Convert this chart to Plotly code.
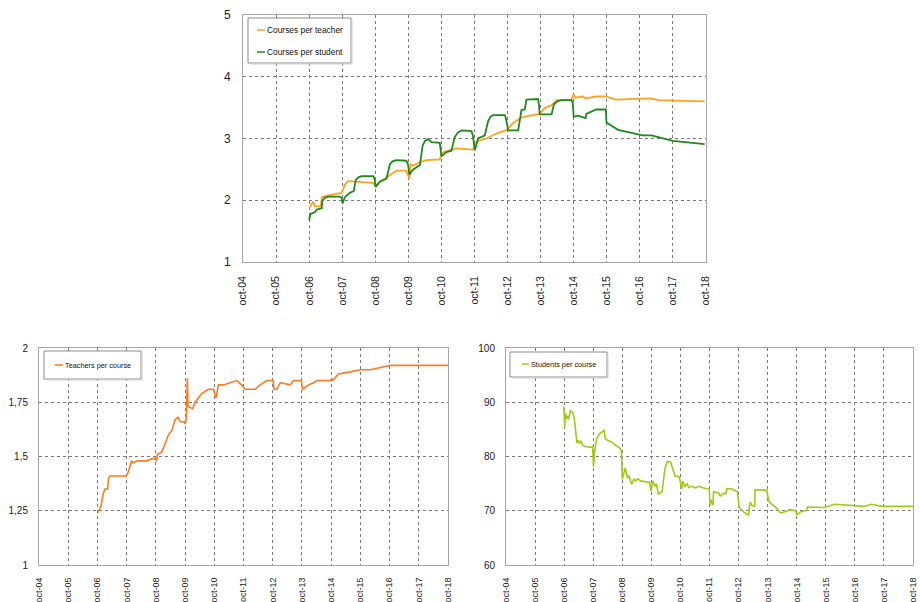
import plotly.graph_objects as go

# Time axis in decimal years; each October is a tick ("oct-04" ... "oct-18").
tick_years = [2004.75 + i for i in range(15)]
tick_labels = ["oct-%02d" % (4 + i) for i in range(15)]

# Courses per teacher
cpt_year = [2006.75, 2006.87, 2006.93, 2007.10, 2007.13, 2007.33, 2007.73, 2007.83, 2007.93,
            2008.30, 2008.69, 2008.76, 2008.89, 2009.04, 2009.39, 2009.69, 2009.78, 2009.82,
            2009.90, 2010.10, 2010.30, 2010.70, 2010.75, 2010.85, 2011.10, 2011.20, 2011.71,
            2011.76, 2011.86, 2012.11, 2012.41, 2012.72, 2012.92, 2013.17, 2013.42, 2013.72,
            2013.87, 2014.08, 2014.23, 2014.63, 2014.68, 2014.75, 2014.80, 2014.88, 2015.03,
            2015.11, 2015.43, 2015.72, 2016.04, 2017.05, 2017.35, 2018.05, 2018.71]
cpt_value = [1.87, 1.98, 1.90, 1.90, 2.05, 2.08, 2.12, 2.25, 2.31,
             2.30, 2.28, 2.22, 2.30, 2.35, 2.48, 2.48, 2.35, 2.58,
             2.56, 2.62, 2.65, 2.66, 2.75, 2.79, 2.82, 2.84, 2.82,
             2.93, 2.96, 3.00, 3.08, 3.14, 3.25, 3.34, 3.37, 3.40,
             3.49, 3.54, 3.62, 3.62, 3.63, 3.72, 3.66, 3.67, 3.68,
             3.65, 3.68, 3.68, 3.63, 3.65, 3.62, 3.61, 3.60]

# Courses per student
cps_year = [2006.75, 2006.79, 2006.93, 2006.98, 2007.13, 2007.15, 2007.22, 2007.33, 2007.68,
            2007.73, 2007.76, 2007.83, 2007.98, 2008.10, 2008.16, 2008.24, 2008.34, 2008.69,
            2008.73, 2008.76, 2008.89, 2009.09, 2009.19, 2009.27, 2009.39, 2009.69, 2009.74,
            2009.78, 2009.90, 2010.10, 2010.18, 2010.25, 2010.35, 2010.45, 2010.70, 2010.72,
            2010.75, 2010.90, 2011.05, 2011.15, 2011.25, 2011.36, 2011.66, 2011.70, 2011.76,
            2011.86, 2012.06, 2012.16, 2012.23, 2012.31, 2012.67, 2012.71, 2012.77, 2013.07,
            2013.14, 2013.17, 2013.27, 2013.32, 2013.67, 2013.70, 2013.72, 2014.08, 2014.15,
            2014.25, 2014.38, 2014.68, 2014.72, 2014.75, 2014.88, 2015.03, 2015.11, 2015.13,
            2015.43, 2015.72, 2015.74, 2016.09, 2016.84, 2017.10, 2017.75, 2018.71]
cps_value = [1.68, 1.78, 1.81, 1.85, 1.87, 1.99, 2.04, 2.06, 2.06,
             2.04, 1.95, 2.05, 2.12, 2.15, 2.33, 2.37, 2.39, 2.39,
             2.34, 2.22, 2.30, 2.35, 2.58, 2.63, 2.65, 2.64, 2.58,
             2.42, 2.50, 2.57, 2.88, 2.96, 2.99, 2.94, 2.93, 2.85,
             2.71, 2.78, 2.80, 3.02, 3.10, 3.13, 3.12, 3.05, 2.81,
             3.00, 3.05, 3.28, 3.35, 3.38, 3.38, 3.30, 3.13, 3.13,
             3.40, 3.46, 3.47, 3.63, 3.64, 3.55, 3.39, 3.39, 3.55,
             3.60, 3.62, 3.62, 3.58, 3.35, 3.37, 3.35, 3.33, 3.40,
             3.47, 3.47, 3.26, 3.14, 3.05, 3.05, 2.96, 2.91]

# Teachers per course
tpc_year = [2006.76, 2006.84, 2006.87, 2006.95, 2007.01, 2007.10, 2007.13, 2007.18, 2007.73,
            2007.81, 2007.92, 2007.98, 2008.10, 2008.44, 2008.61, 2008.72, 2008.78, 2008.80,
            2008.95, 2009.07, 2009.18, 2009.30, 2009.41, 2009.52, 2009.58, 2009.72, 2009.75,
            2009.79, 2009.83, 2009.85, 2010.01, 2010.09, 2010.24, 2010.32, 2010.55, 2010.72,
            2010.81, 2010.89, 2011.06, 2011.29, 2011.52, 2011.69, 2011.81, 2012.15, 2012.32,
            2012.55, 2012.76, 2012.80, 2012.89, 2013.01, 2013.35, 2013.46, 2013.73, 2013.77,
            2013.98, 2014.15, 2014.26, 2014.72, 2014.78, 2014.80, 2015.00, 2015.40, 2015.75,
            2016.09, 2016.77, 2018.75]
tpc_value = [1.24, 1.26, 1.27, 1.33, 1.35, 1.35, 1.40, 1.41, 1.41,
             1.43, 1.48, 1.47, 1.48, 1.48, 1.49, 1.49, 1.48, 1.51,
             1.52, 1.56, 1.60, 1.62, 1.67, 1.68, 1.66, 1.66, 1.65,
             1.67, 1.86, 1.73, 1.72, 1.75, 1.78, 1.79, 1.81, 1.81,
             1.77, 1.83, 1.83, 1.84, 1.85, 1.83, 1.81, 1.81, 1.83,
             1.85, 1.85, 1.81, 1.81, 1.84, 1.83, 1.85, 1.85, 1.81,
             1.83, 1.84, 1.85, 1.85, 1.86, 1.85, 1.88, 1.89, 1.90,
             1.90, 1.92, 1.92]

# Students per course
spc_year = [2006.74, 2006.77, 2006.79, 2006.84, 2006.87, 2006.90, 2006.96, 2007.04, 2007.10,
            2007.16, 2007.19, 2007.23, 2007.27, 2007.33, 2007.39, 2007.50, 2007.71, 2007.73,
            2007.76, 2007.80, 2007.87, 2007.96, 2008.07, 2008.13, 2008.16, 2008.24, 2008.41,
            2008.53, 2008.66, 2008.72, 2008.75, 2008.85, 2008.93, 2008.98, 2009.07, 2009.15,
            2009.21, 2009.29, 2009.38, 2009.67, 2009.69, 2009.74, 2009.80, 2009.87, 2009.92,
            2009.99, 2010.09, 2010.12, 2010.16, 2010.22, 2010.30, 2010.41, 2010.47, 2010.56,
            2010.70, 2010.73, 2010.79, 2010.83, 2010.90, 2010.98, 2011.04, 2011.15, 2011.27,
            2011.38, 2011.55, 2011.72, 2011.74, 2011.77, 2011.80, 2011.87, 2011.89, 2012.06,
            2012.12, 2012.24, 2012.32, 2012.35, 2012.52, 2012.71, 2012.77, 2012.92, 2013.09,
            2013.15, 2013.21, 2013.30, 2013.32, 2013.72, 2013.78, 2013.83, 2013.95, 2014.06,
            2014.19, 2014.35, 2014.52, 2014.69, 2014.71, 2014.76, 2014.83, 2014.89, 2015.03,
            2015.09, 2015.12, 2015.66, 2015.69, 2016.06, 2016.63, 2017.08, 2017.31, 2017.71,
            2018.75]
spc_value = [89.2, 85.4, 88.0, 87.0, 87.5, 86.8, 88.4, 88.2, 87.0,
             83.0, 82.5, 83.0, 82.5, 82.8, 82.1, 81.8, 81.7, 82.0,
             78.1, 81.0, 83.3, 84.2, 84.7, 84.8, 83.3, 83.0, 82.6,
             82.0, 81.6, 81.0, 75.8, 77.9, 76.0, 76.5, 74.9, 75.8,
             75.5, 75.9, 75.5, 75.1, 75.2, 73.6, 75.5, 74.5, 75.0,
             73.1, 73.5, 73.5, 75.3, 77.8, 79.1, 79.0, 78.0, 76.4,
             76.3, 75.8, 74.0, 75.5, 74.5, 75.0, 74.3, 74.5, 74.2,
             74.5, 74.2, 74.0, 74.0, 71.0, 72.0, 71.0, 73.5, 73.3,
             72.7, 73.2, 73.2, 74.1, 74.0, 73.5, 70.6, 69.8, 69.2,
             71.6, 71.0, 70.8, 73.9, 73.8, 72.0, 71.5, 71.0, 70.5,
             69.6, 69.8, 70.2, 70.1, 70.0, 69.3, 69.5, 69.8, 70.0,
             70.1, 70.7, 70.7, 70.6, 71.2, 70.9, 70.8, 71.2, 70.8,
             70.8]

FONT = "Liberation Sans, Arial, sans-serif"
W, H = 920, 602

COL_CPT = "#FFA21F"
COL_CPS = "#1E8A1E"
COL_TPC = "#FF7A22"
COL_SPC = "#9CCC14"


def xdom(x0, x1):
    return [x0 / W, x1 / W]


def ydom(y0, y1):
    return [1 - y1 / H, 1 - y0 / H]


fig = go.Figure()

fig.add_trace(go.Scatter(x=cpt_year, y=cpt_value, mode="lines", name="Courses per teacher",
                         line=dict(color=COL_CPT, width=1.8), xaxis="x", yaxis="y"))
fig.add_trace(go.Scatter(x=cps_year, y=cps_value, mode="lines", name="Courses per student",
                         line=dict(color=COL_CPS, width=1.8), xaxis="x", yaxis="y"))
fig.add_trace(go.Scatter(x=tpc_year, y=tpc_value, mode="lines", name="Teachers per course",
                         line=dict(color=COL_TPC, width=1.6), xaxis="x2", yaxis="y2"))
fig.add_trace(go.Scatter(x=spc_year, y=spc_value, mode="lines", name="Students per course",
                         line=dict(color=COL_SPC, width=1.6), xaxis="x3", yaxis="y3"))

grid = dict(showgrid=True, gridcolor="#7a7a7a", griddash="dot", gridwidth=1,
            showline=True, linecolor="#a6a6a6", linewidth=1, mirror=True,
            zeroline=False, ticks="", automargin=False, fixedrange=True)


def xaxis(dom, anchor, size, standoff):
    return dict(domain=dom, anchor=anchor, range=[tick_years[0], tick_years[-1]],
                tickmode="array", tickvals=tick_years, ticktext=tick_labels,
                tickangle=-90, ticklabelstandoff=standoff,
                tickfont=dict(family=FONT, size=size, color="#222"), **grid)


def yaxis(dom, anchor, rng, vals, size, standoff):
    return dict(domain=dom, anchor=anchor, range=rng, tickmode="array", tickvals=vals,
                ticklabelstandoff=standoff,
                tickfont=dict(family=FONT, size=size, color="#222"), **grid)


# Boxed legends in the style of a spreadsheet chart: short line sample, then the name.
shapes = []
annotations = []


def boxed_legend(box, entries, size):
    x0, y0, x1, y1 = box
    shapes.append(dict(type="rect", xref="paper", yref="paper",
                       x0=x0 / W, x1=x1 / W, y0=1 - y1 / H, y1=1 - y0 / H,
                       line=dict(color="#8c8c8c", width=1), fillcolor="white", layer="above"))
    # soft drop shadow on the right and bottom edges
    shapes.append(dict(type="line", xref="paper", yref="paper",
                       x0=(x1 + 1) / W, x1=(x1 + 1) / W, y0=1 - (y1 + 1) / H, y1=1 - (y0 + 2) / H,
                       line=dict(color="#d0d0d0", width=1), layer="above"))
    shapes.append(dict(type="line", xref="paper", yref="paper",
                       x0=(x0 + 2) / W, x1=(x1 + 1) / W, y0=1 - (y1 + 1) / H, y1=1 - (y1 + 1) / H,
                       line=dict(color="#d0d0d0", width=1), layer="above"))
    for (lx0, lx1, ly, name, color) in entries:
        shapes.append(dict(type="line", xref="paper", yref="paper",
                           x0=lx0 / W, x1=lx1 / W, y0=1 - ly / H, y1=1 - ly / H,
                           line=dict(color=color, width=1.5), layer="above"))
        annotations.append(dict(xref="paper", yref="paper", x=lx1 / W, y=1 - ly / H,
                                xanchor="left", yanchor="middle", showarrow=False,
                                text=name, font=dict(family=FONT, size=size, color="#111")))


boxed_legend((248, 18, 351, 63),
             [(257, 265, 30, "Courses per teacher", COL_CPT),
              (257, 265, 52, "Courses per student", COL_CPS)], 8.4)
boxed_legend((44, 351, 141, 379),
             [(55, 63, 365, "Teachers per course", COL_TPC)], 7.3)
boxed_legend((510, 352, 607, 377),
             [(522, 529, 364, "Students per course", COL_SPC)], 7.3)

fig.update_layout(
    width=W, height=H,
    margin=dict(l=0, r=0, t=0, b=0),
    paper_bgcolor="white", plot_bgcolor="white",
    separators=",.",
    showlegend=False,
    xaxis=xaxis(xdom(243, 706), "y", 10.5, 9),
    yaxis=yaxis(ydom(15, 262), "x", [1, 5], [1, 2, 3, 4, 5], 12, 9),
    xaxis2=xaxis(xdom(39, 448), "y2", 9, 8),
    yaxis2=yaxis(ydom(348, 565), "x2", [1, 2], [1, 1.25, 1.5, 1.75, 2], 10, 8),
    xaxis3=xaxis(xdom(506, 913), "y3", 9, 8),
    yaxis3=yaxis(ydom(348, 565), "x3", [60, 100], [60, 70, 80, 90, 100], 10, 8),
    shapes=shapes,
    annotations=annotations,
)

fig.write_html("out.html")
